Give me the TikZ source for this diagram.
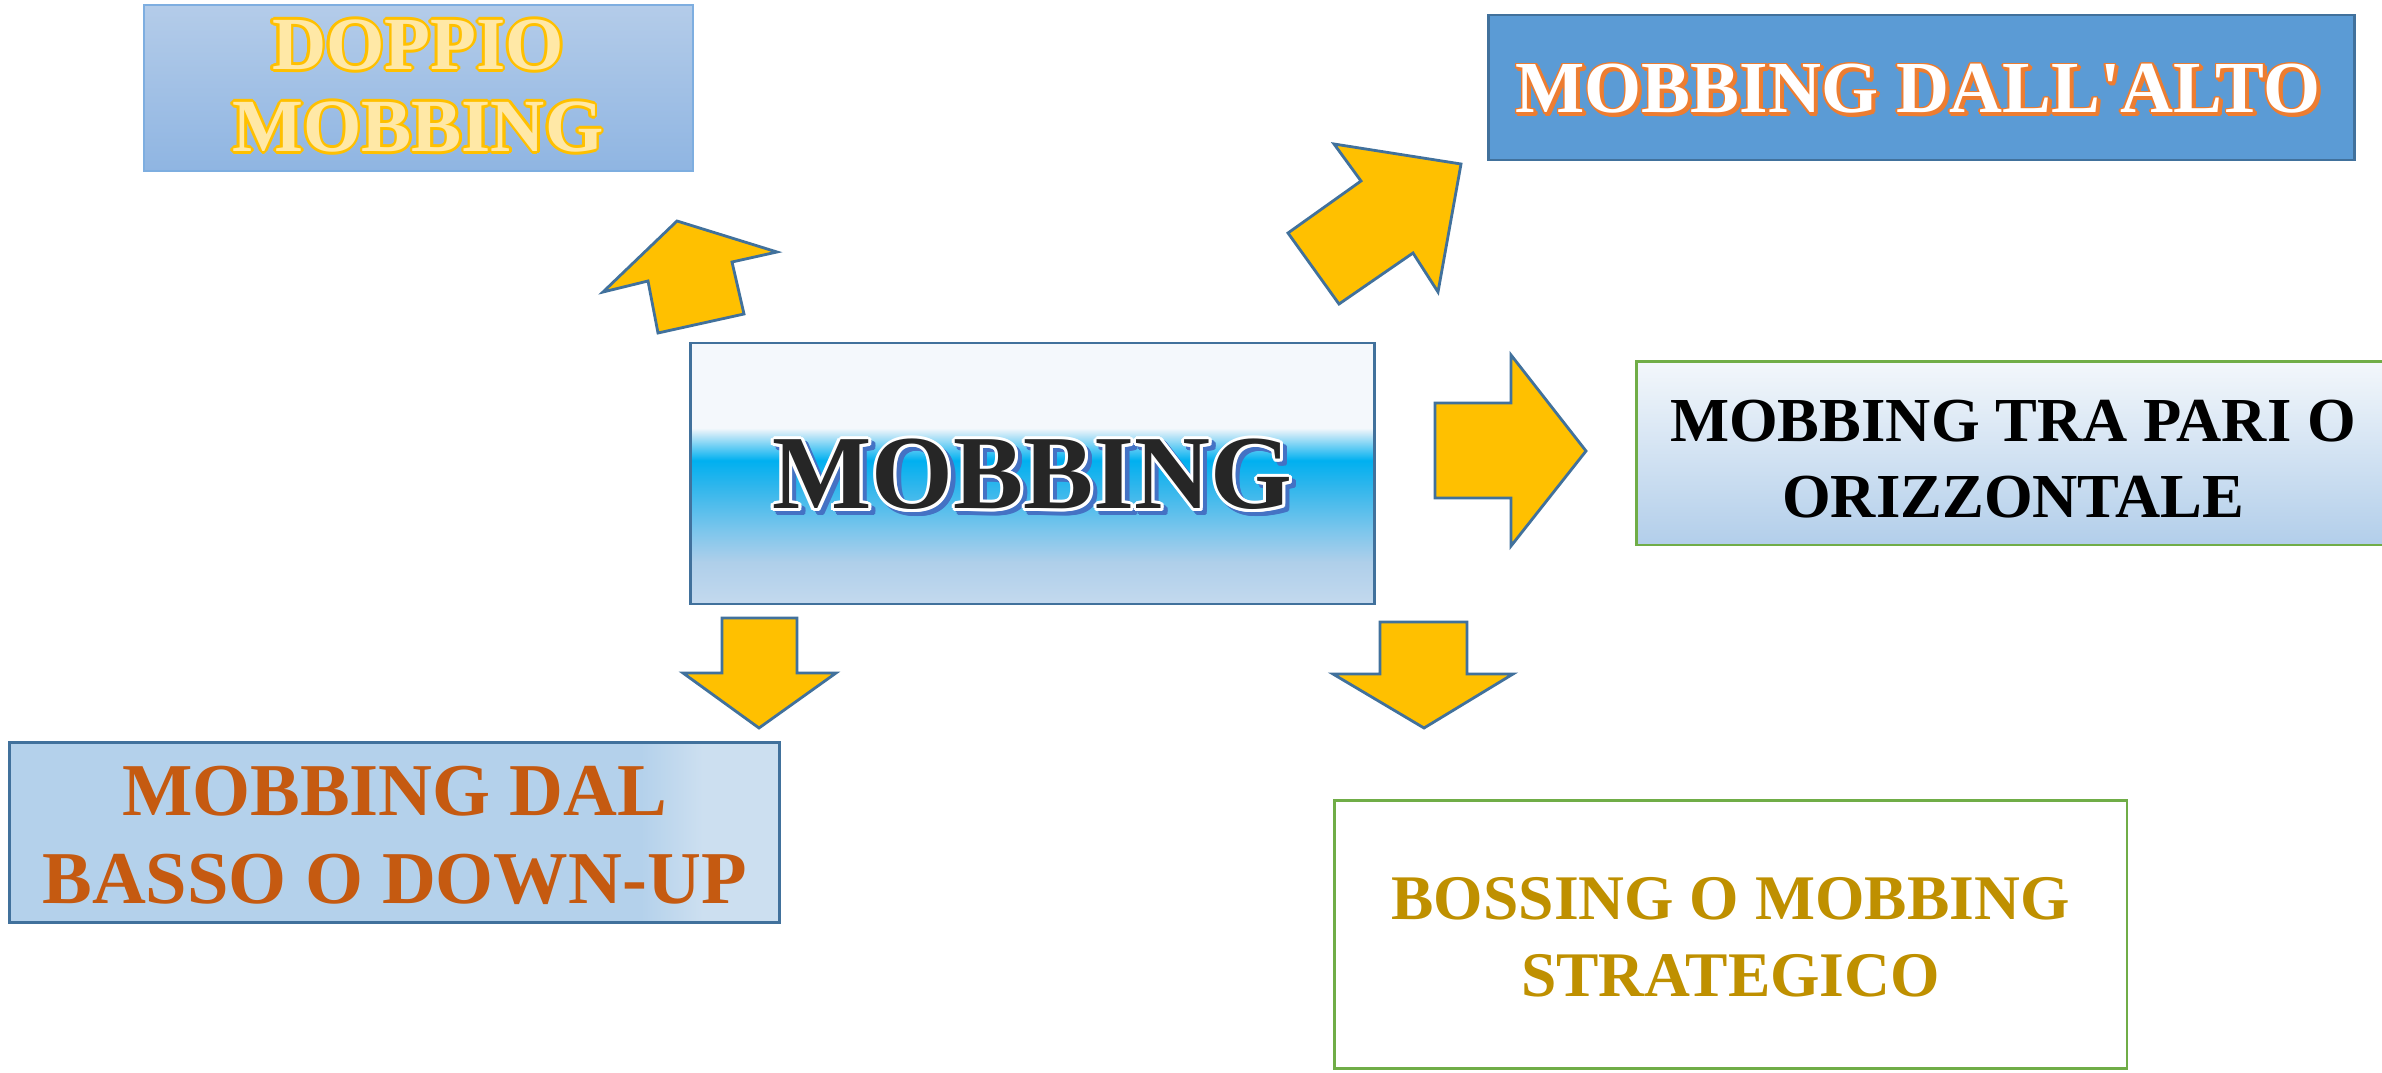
\documentclass[tikz,border=0pt]{standalone}
\usepackage{fontspec}
\newfontfamily\tnr{Liberation Serif}[Ligatures=TeXOff]
\definecolor{arrowfill}{HTML}{FFC000}
\definecolor{arrowline}{HTML}{41719C}
\definecolor{dopA}{HTML}{B4CCE9}
\definecolor{dopB}{HTML}{8FB5E2}
\definecolor{dopline}{HTML}{7EAEE0}
\definecolor{dopol}{HTML}{FFC000}
\definecolor{dopfill}{HTML}{FFE8A6}
\definecolor{altofill}{HTML}{5B9BD5}
\definecolor{boxline}{HTML}{41719C}
\definecolor{altool}{HTML}{ED7D31}
\definecolor{mobsh}{HTML}{4472C4}
\definecolor{mobtxt}{HTML}{262626}
\definecolor{greenline}{HTML}{70AD47}
\definecolor{pariA}{HTML}{F3F7FB}
\definecolor{pariB}{HTML}{B2CEEA}
\definecolor{bassotxt}{HTML}{C55A11}
\definecolor{bosstxt}{HTML}{BF9000}
\definecolor{mA}{HTML}{F4F8FC}
\definecolor{mB}{HTML}{C6E8F8}
\definecolor{mC}{HTML}{00B0F0}
\definecolor{mD}{HTML}{30B6EC}
\definecolor{mE}{HTML}{7DC6EC}
\definecolor{mF}{HTML}{AFCFEA}
\definecolor{mG}{HTML}{C3D9EE}
\definecolor{bA}{HTML}{B4D1EB}
\definecolor{bB}{HTML}{CCDFF0}
\pgfdeclareverticalshading{mobshade}{100bp}{color(0bp)=(mG); color(25bp)=(mG); color(33bp)=(mF); color(39bp)=(mE); color(47.5bp)=(mD); color(52.5bp)=(mC); color(57.5bp)=(mB); color(58.7bp)=(mA); color(75bp)=(mA); color(100bp)=(mA)}
\pgfdeclarehorizontalshading{bassoshade}{100bp}{color(0bp)=(bA); color(25bp)=(bA); color(66bp)=(bA); color(70bp)=(bB); color(75bp)=(bB); color(100bp)=(bB)}
% outlined text helpers
\newcommand\olput[4]{\makebox[0pt][l]{\hspace*{#1}\raisebox{#2}{\color{#3}#4}}}
\newcommand\olring[5]{%
  \olput{\dimexpr #2+#1\relax}{\dimexpr #3\relax}{#4}{#5}%
  \olput{\dimexpr #2+#1*866/1000\relax}{\dimexpr #3+#1*5/10\relax}{#4}{#5}%
  \olput{\dimexpr #2+#1*5/10\relax}{\dimexpr #3+#1*866/1000\relax}{#4}{#5}%
  \olput{\dimexpr #2\relax}{\dimexpr #3+#1\relax}{#4}{#5}%
  \olput{\dimexpr #2-#1*5/10\relax}{\dimexpr #3+#1*866/1000\relax}{#4}{#5}%
  \olput{\dimexpr #2-#1*866/1000\relax}{\dimexpr #3+#1*5/10\relax}{#4}{#5}%
  \olput{\dimexpr #2-#1\relax}{\dimexpr #3\relax}{#4}{#5}%
  \olput{\dimexpr #2-#1*866/1000\relax}{\dimexpr #3-#1*5/10\relax}{#4}{#5}%
  \olput{\dimexpr #2-#1*5/10\relax}{\dimexpr #3-#1*866/1000\relax}{#4}{#5}%
  \olput{\dimexpr #2\relax}{\dimexpr #3-#1\relax}{#4}{#5}%
  \olput{\dimexpr #2+#1*5/10\relax}{\dimexpr #3-#1*866/1000\relax}{#4}{#5}%
  \olput{\dimexpr #2+#1*866/1000\relax}{\dimexpr #3-#1*5/10\relax}{#4}{#5}%
}
\newcommand\dopfx[1]{\olring{0.75pt}{0pt}{0pt}{dopol}{#1}{\color{dopfill}#1}}
\newcommand\altofx[1]{\olring{0.5pt}{0.6pt}{-0.6pt}{altool}{#1}\olring{0.45pt}{0pt}{0pt}{altool}{#1}{\color{white}#1}}
\newcommand\mobfx[1]{\olring{0.85pt}{1.2pt}{-1.2pt}{mobsh}{#1}\olring{0.85pt}{0pt}{0pt}{white}{#1}{\color{mobtxt}#1}}
\tikzset{
  boxnode/.style={rectangle, inner sep=0pt, line width=0.8pt},
  txtnode/.style={inner sep=0pt, align=center},
  blockarrow/.style={fill=arrowfill, draw=arrowline, line width=0.8pt, line join=miter}
}
\begin{document}
\begin{tikzpicture}[x=0.01cm, y=-0.01cm]
\useasboundingbox (0,0) rectangle (2382,1073);
\clip (0,0) rectangle (2382,1073);
\fill[white] (0,0) rectangle (2382,1073);

% boxes
\node[boxnode, minimum width=5.48cm, minimum height=1.66cm, top color=dopA, bottom color=dopB, draw=dopline, line width=0.6pt] (dop) at (418.6,88) {};
\node[boxnode, minimum width=8.65cm, minimum height=1.45cm, fill=altofill, draw=boxline] (alto) at (1921.5,87.5) {};
\node[boxnode, minimum width=6.83cm, minimum height=2.61cm, shade, shading=mobshade, draw=boxline] (mob) at (1032.5,473.5) {};
\node[boxnode, minimum width=7.52cm, minimum height=1.83cm, top color=pariA, bottom color=pariB, draw=greenline] (pari) at (2013,453.4) {};
\node[boxnode, minimum width=7.69cm, minimum height=1.80cm, shade, shading=bassoshade, draw=boxline] (basso) at (394.5,832.7) {};
\node[boxnode, minimum width=7.92cm, minimum height=2.68cm, fill=white, draw=greenline] (boss) at (1730.8,934.2) {};

% block arrows
\draw[blockarrow] (677,221) -- (777,252) -- (732,262) -- (744,314) -- (658,333) -- (648,281) -- (603,292) -- cycle;
\draw[blockarrow] (1334,144) -- (1461,164) -- (1438,292) -- (1413,253) -- (1339,304) -- (1288,233) -- (1361,181) -- cycle;
\draw[blockarrow] (1435,403) -- (1511,403) -- (1511,355) -- (1586,451) -- (1511,546) -- (1511,498) -- (1435,498) -- cycle;
\draw[blockarrow] (722,618) -- (797,618) -- (797,673) -- (836,673) -- (759,728) -- (683,673) -- (722,673) -- cycle;
\draw[blockarrow] (1380,622) -- (1467,622) -- (1467,674) -- (1513,674) -- (1424,728) -- (1333,674) -- (1380,674) -- cycle;

% texts
\node[txtnode, font={\tnr\bfseries\fontsize{21.34pt}{23.3pt}\selectfont}] (doptxt) at (418,86) {\dopfx{DOPPIO}\\\dopfx{MOBBING}};
\node[txtnode, font={\tnr\bfseries\fontsize{20.85pt}{24pt}\selectfont}] (altotxt) at (1918,90) {\altofx{MOBBING DALL'ALTO}};
\node[txtnode, font={\tnr\bfseries\fontsize{29.9pt}{34pt}\selectfont}] (mobtxt) at (1032.5,476.5) {\mobfx{MOBBING}};
\node[txtnode, text=black, font={\tnr\bfseries\fontsize{17.8pt}{21.8pt}\selectfont}] (paritxt) at (2013,459) {MOBBING TRA PARI O\\ORIZZONTALE};
\node[txtnode, text=bassotxt, font={\tnr\bfseries\fontsize{21.2pt}{25pt}\selectfont}] (bassotxt) at (394.5,835) {MOBBING DAL\\BASSO O DOWN-UP};
\node[txtnode, text=bosstxt, font={\tnr\bfseries\fontsize{18.07pt}{21.9pt}\selectfont}] (bosstxt) at (1730.5,937) {BOSSING O MOBBING\\STRATEGICO};
\end{tikzpicture}
\end{document}
